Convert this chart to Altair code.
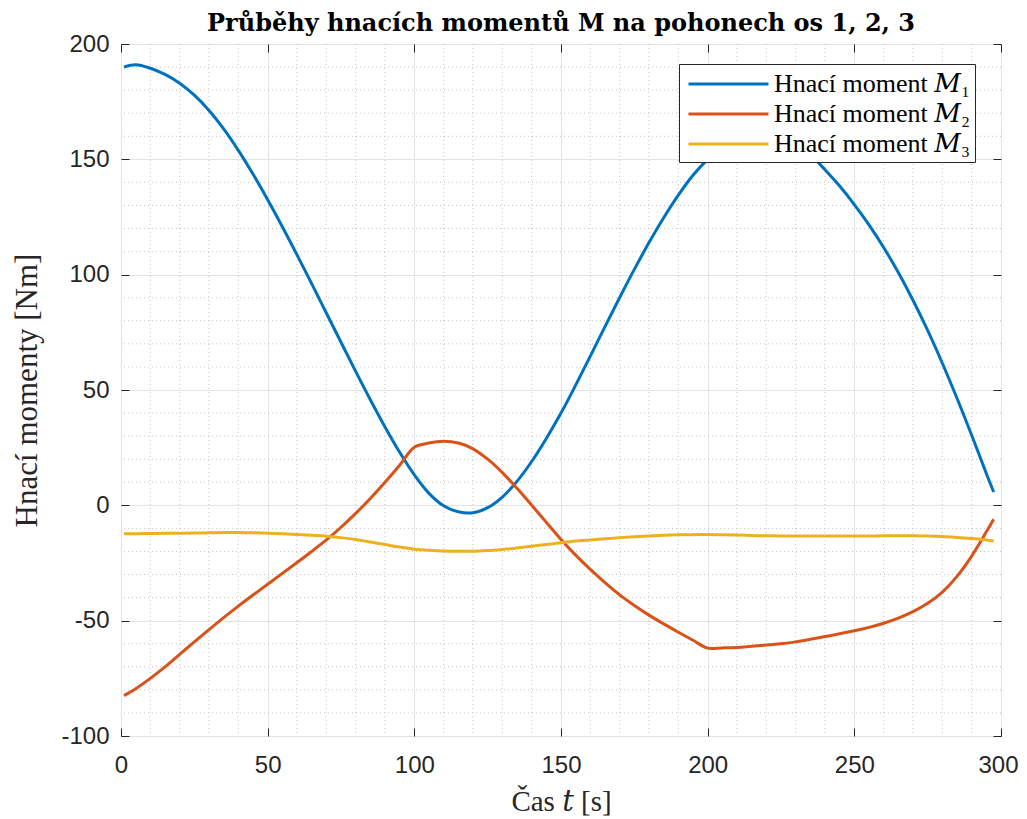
import altair as alt
import pandas as pd

# ---- data ----
t = [1, 5, 10, 15, 20, 25, 30, 35, 40, 45, 50, 55, 60, 65, 70, 75, 80, 85, 90, 95,
     100, 105, 110, 115, 120, 125, 130, 135, 140, 145, 150, 155, 160, 165, 170, 175,
     180, 185, 190, 195, 200, 205, 210, 215, 220, 225, 230, 235, 240, 245, 250, 255,
     260, 265, 270, 275, 280, 285, 290, 295, 297.5]

m1 = [190.0, 191.0, 189.5, 186.8, 183.0, 177.8, 171.2, 163.2, 153.9, 143.6, 132.5,
      120.8, 108.6, 96.1, 83.4, 70.7, 58.1, 45.8, 34.0, 23.0, 13.2, 5.2, -0.2, -2.8,
      -3.2, -1.0, 3.6, 10.4, 19.0, 29.0, 40.0, 52.1, 64.7, 77.5, 90.1, 102.3, 113.9,
      124.7, 134.5, 143.1, 150.0, 155.4, 159.2, 161.3, 161.8, 160.3, 157.0, 152.0,
      145.5, 138.4, 130.4, 121.6, 111.8, 100.9, 88.9, 75.8, 61.6, 46.4, 30.4, 13.8, 5.8]

m2 = [-82.5, -79.5, -75.0, -70.0, -64.6, -59.2, -53.9, -48.7, -43.7, -38.9, -34.2,
      -29.5, -24.8, -20.0, -15.0, -9.5, -3.5, 3.0, 10.0, 17.4, 25.2, 27.0, 27.8, 27.0,
      24.5, 20.0, 14.2, 7.4, 0.1, -7.4, -14.8, -21.6, -27.8, -33.5, -38.8, -43.4,
      -47.6, -51.4, -55.0, -58.5, -61.9, -61.8, -61.6, -61.1, -60.6, -60.0, -59.2,
      -58.1, -56.9, -55.7, -54.4, -52.9, -51.1, -48.9, -46.1, -42.5, -37.6, -30.8,
      -22.0, -11.5, -6.0]

m3 = [-12.3, -12.3, -12.2, -12.1, -12.1, -12.0, -11.9, -11.8, -11.8, -11.9, -12.1,
      -12.3, -12.6, -13.0, -13.4, -14.0, -14.8, -15.9, -17.0, -18.1, -19.0, -19.5,
      -19.8, -19.9, -19.9, -19.6, -19.1, -18.5, -17.7, -17.0, -16.2, -15.5, -15.0,
      -14.5, -14.0, -13.6, -13.3, -13.0, -12.8, -12.7, -12.6, -12.8, -12.9, -13.1,
      -13.2, -13.3, -13.3, -13.3, -13.3, -13.3, -13.3, -13.3, -13.2, -13.2, -13.2,
      -13.3, -13.5, -13.9, -14.4, -15.0, -15.5]

series = ["Hnací moment 𝑀₁", "Hnací moment 𝑀₂", "Hnací moment 𝑀₃"]
colors = ["#0072BD", "#D95319", "#EDB120"]

x_ticks = [0, 50, 100, 150, 200, 250, 300]
y_ticks = [-100, -50, 0, 50, 100, 150, 200]
x_minor = [10, 20, 30, 40, 60, 70, 80, 90, 110, 120, 130, 140, 160, 170, 180, 190,
           210, 220, 230, 240, 260, 270, 280, 290]
y_minor = [-90, -80, -70, -60, -40, -30, -20, -10, 10, 20, 30, 40, 60, 70, 80, 90,
           110, 120, 130, 140, 160, 170, 180, 190]

# ---- long table ----
rows = []
for name, vals in zip(series, [m1, m2, m3]):
    for tt, v in zip(t, vals):
        rows.append({"t": tt, "M": v, "series": name})
df = pd.DataFrame(rows)

xscale = alt.Scale(domain=[0, 300], nice=False, zero=False)
yscale = alt.Scale(domain=[-100, 200], nice=False, zero=False)

INK = "#262626"
TICK_FONT = "Liberation Sans"
SERIF = "Liberation Serif, DejaVu Serif"

x_axis = alt.Axis(
    orient="bottom", values=x_ticks, title="Čas 𝑡 [s]",
    labelFont=TICK_FONT, labelFontSize=24, labelColor=INK, labelFlush=False,
    labelOverlap=False, labelPadding=17, labelExpr="'' + datum.value",
    labelOffset={"condition": {"test": "datum.value == 300", "value": -3}, "value": 0},
    domain=False, ticks=True, tickSize=8, tickColor=INK, tickWidth=1, offset=-8,
    grid=True, gridColor="#e2e2e2", gridWidth=1,
    titleFont=SERIF, titleFontSize=29, titleFontWeight="normal", titleColor=INK,
    titleBaseline="alphabetic", titleY=82,
)
y_axis = alt.Axis(
    orient="left", values=y_ticks, title="Hnací momenty [Nm]",
    labelFont=TICK_FONT, labelFontSize=24, labelColor=INK, labelFlush=False,
    labelOverlap=False, labelPadding=12, labelExpr="'' + datum.value",
    domain=False, ticks=True, tickSize=8, tickColor=INK, tickWidth=1, offset=-8,
    grid=True, gridColor="#e2e2e2", gridWidth=1,
    titleFont=SERIF, titleFontSize=31, titleFontWeight="normal", titleColor=INK,
    titleBaseline="alphabetic", titleAngle=270, titleAlign="center",
    titleX=-93, titleY=346,
)

legend = alt.Legend(
    title=None, orient="none", legendX=558, legendY=20,
    symbolType="M-4.926,0H1", symbolSize=729, symbolStrokeWidth=3,
    symbolOffset=56, labelOffset=4,
    labelFont=SERIF, labelFontSize=26, labelColor="black", labelLimit=400,
    padding=5, rowPadding=2, strokeColor=INK, fillColor="white",
)

lines = alt.Chart(df).mark_line(strokeWidth=3, interpolate="catmull-rom").encode(
    x=alt.X("t:Q", scale=xscale, axis=x_axis),
    y=alt.Y("M:Q", scale=yscale, axis=y_axis),
    color=alt.Color("series:N", scale=alt.Scale(domain=series, range=colors),
                    legend=legend, sort=series),
)

vminor = alt.Chart(pd.DataFrame({"v": x_minor})).mark_rule(
    color="#c4c4c4", strokeDash=[1, 3], strokeWidth=1
).encode(
    x=alt.X("v:Q", scale=xscale, axis=alt.Axis(
        orient="top", values=x_ticks, labels=False, title=None, grid=False,
        domain=False, ticks=True, tickSize=8, tickColor=INK, offset=-8)),
)

hminor = alt.Chart(pd.DataFrame({"v": y_minor})).mark_rule(
    color="#c4c4c4", strokeDash=[1, 3], strokeWidth=1
).encode(
    y=alt.Y("v:Q", scale=yscale, axis=alt.Axis(
        orient="right", values=y_ticks, labels=False, title=None, grid=False,
        domain=False, ticks=True, tickSize=8, tickColor=INK, offset=-8)),
)

chart = alt.layer(vminor, hminor, lines).resolve_axis(
    x="independent", y="independent"
).properties(
    width=880, height=692,
    autosize=alt.AutoSizeParams(type="none"),
    padding={"left": 113, "top": 36, "right": 18, "bottom": 83},
    title=alt.Title(
        "Průběhy hnacích momentů M na pohonech os 1, 2, 3",
        font="DejaVu Serif", fontSize=24, fontWeight="bold", color="black",
        anchor="middle", offset=-4,
    ),
    background="white",
).configure_view(stroke=INK, strokeWidth=1)

chart.save("out.html", embed_options={"renderer": "svg", "actions": False})
